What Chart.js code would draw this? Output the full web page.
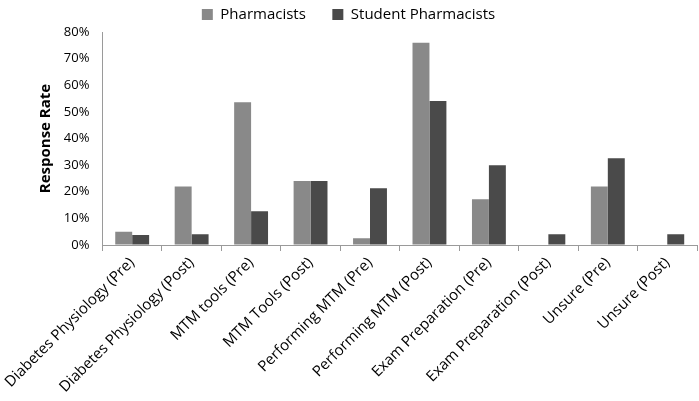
<!DOCTYPE html>
<html>
<head>
<meta charset="utf-8">
<script src="https://cdn.jsdelivr.net/npm/chart.js@4"></script>
<style>
  html, body { margin: 0; padding: 0; background: #fff; }
  #wrap { width: 699px; height: 401px; }
</style>
</head>
<body>
<div id="wrap"><canvas id="myChart" width="699" height="401"></canvas></div>
<script>
var categories = ['Diabetes Physiology (Pre)', 'Diabetes Physiology (Post)', 'MTM tools (Pre)', 'MTM Tools (Post)',
  'Performing MTM (Pre)', 'Performing MTM (Post)', 'Exam Preparation (Pre)', 'Exam Preparation (Post)',
  'Unsure (Pre)', 'Unsure (Post)'];
var pharmacists = [5, 22, 53.6, 24, 2.5, 76, 17.2, 0, 22, 0];
var students = [3.8, 4, 12.7, 24, 21.3, 54.1, 30, 4, 32.6, 4];
var yTicks = [0, 10, 20, 30, 40, 50, 60, 70, 80];

var font = 'Open Sans';

var ctx = document.getElementById('myChart').getContext('2d');
var chart = new Chart(ctx, {
    type: 'bar',
    data: {
        labels: categories,
        datasets: [{
            label: 'Pharmacists',
            data: pharmacists,
            backgroundColor: '#898989'
        }, {
            label: 'Student Pharmacists',
            data: students,
            backgroundColor: '#4a4a4a'
        }]
    },
    options: {
        responsive: false,
        animation: false,
        layout: { padding: { top: 0, right: 2, left: 0, bottom: 0 } },
        datasets: {
            bar: { categoryPercentage: 0.57, barPercentage: 1 }
        },
        plugins: {
            tooltip: { enabled: false },
            legend: {
                position: 'top',
                labels: {
                    font: { family: font, size: 15 },
                    color: '#000',
                    boxWidth: 11,
                    boxHeight: 11,
                    padding: 7,
                    generateLabels: function(c) {
                        var items = Chart.defaults.plugins.legend.labels.generateLabels(c);
                        // extra room between the two legend entries
                        items[0].text = items[0].text + '     ';
                        return items;
                    }
                }
            }
        },
        scales: {
            x: {
                afterFit: function(axis) { axis.height = 156; },
                grid: {
                    offset: true,
                    drawOnChartArea: false,
                    drawTicks: true,
                    tickLength: 6,
                    color: '#9a9a9a'
                },
                border: { color: '#9a9a9a' },
                ticks: {
                    minRotation: 45,
                    maxRotation: 45,
                    color: '#000',
                    font: { family: font, size: 15 }
                }
            },
            y: {
                min: 0,
                max: 80,
                afterFit: function(axis) { axis.width = 96; },
                afterBuildTicks: function(axis) {
                    axis.ticks = yTicks.map(function(v) { return { value: v }; });
                },
                grid: { drawOnChartArea: false, drawTicks: false },
                border: { color: '#9a9a9a' },
                ticks: {
                    padding: 13,
                    color: '#000',
                    font: { family: font, size: 13 },
                    callback: function(v) { return v + '%'; }
                },
                title: {
                    display: true,
                    text: 'Response Rate',
                    color: '#000',
                    font: { family: font, size: 15, weight: 'bold' },
                    padding: { top: 30, bottom: 0 }
                }
            }
        }
    }
});
</script>
</body>
</html>
